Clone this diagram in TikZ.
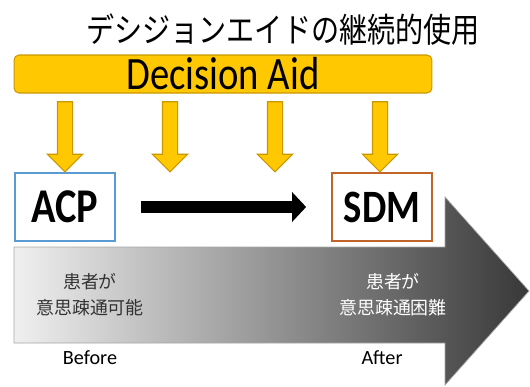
\documentclass[tikz,border=0pt]{standalone}
\usepackage{fontspec}
\usepackage{graphicx}
\setmainfont{Carlito}
\newfontfamily\jp{Noto Sans CJK JP}
\usetikzlibrary{arrows.meta,shapes.arrows}
\definecolor{aidgold}{HTML}{FFC800}
\definecolor{aidedge}{HTML}{C99700}
\definecolor{acpblue}{HTML}{5B9BD5}
\definecolor{sdmorange}{HTML}{C0642A}
\newcommand{\tall}[1]{\scalebox{1}[1.2]{#1}}

\begin{document}
\begin{tikzpicture}[x=0.02cm,y=-0.02cm,
  aidbar/.style={draw=aidedge,fill=aidgold,rounded corners=0.1cm,minimum width=8.36cm,minimum height=0.76cm,inner sep=0pt,line width=0.6pt},
  downarrow/.style={single arrow,shape border rotate=270,draw=aidedge,fill=aidgold,minimum height=1.4cm,minimum width=0.68cm,single arrow head extend=0.2cm,inner sep=0.14cm,line width=0.6pt},
  stagebox/.style={draw,fill=white,line width=1pt,minimum width=2cm,minimum height=1.36cm,inner sep=0pt},
  jptext/.style={font=\jp\fontsize{10.2}{14.7}\selectfont,align=center},
  timetext/.style={font=\fontsize{11.5}{13}\selectfont}]
\useasboundingbox (0,0) rectangle (530,386);
\shadedraw[left color=black!6,right color=black!78,draw=black!35] (14,247) -- (445,247) -- (445,197) -- (529,291) -- (445,385) -- (445,343) -- (14,343) -- cycle;
\node (title) at (283,30) {\jp\fontsize{16}{19}\selectfont\tall{デシジョンエイドの継続的使用}};
\node[aidbar] (aid) at (223,74) {\fontsize{22}{26}\selectfont\tall{Decision Aid}};
\node[stagebox,draw=acpblue] (acp) at (65,207) {\fontsize{23}{27}\selectfont\bfseries\tall{ACP}};
\node[stagebox,draw=sdmorange] (sdm) at (382,207) {\fontsize{22}{26}\selectfont\bfseries\tall{SDM}};
\foreach \x/\n in {65/a,170/b,275/c,380/d}
  \node[downarrow] (da\n) at (\x,133) {};
\draw[line width=0.24cm,-{Triangle[length=0.28cm,width=0.58cm]},shorten <=0.5cm,shorten >=0.5cm] (acp) -- (sdm);
\node[jptext,text=black!80] (able) at (90,295) {患者が\\意思疎通可能};
\node[jptext,text=white] (unable) at (393,295) {患者が\\意思疎通困難};
\node[timetext] (before) at (90,358) {Before};
\node[timetext] (after) at (382,358) {After};
\end{tikzpicture}
\end{document}
